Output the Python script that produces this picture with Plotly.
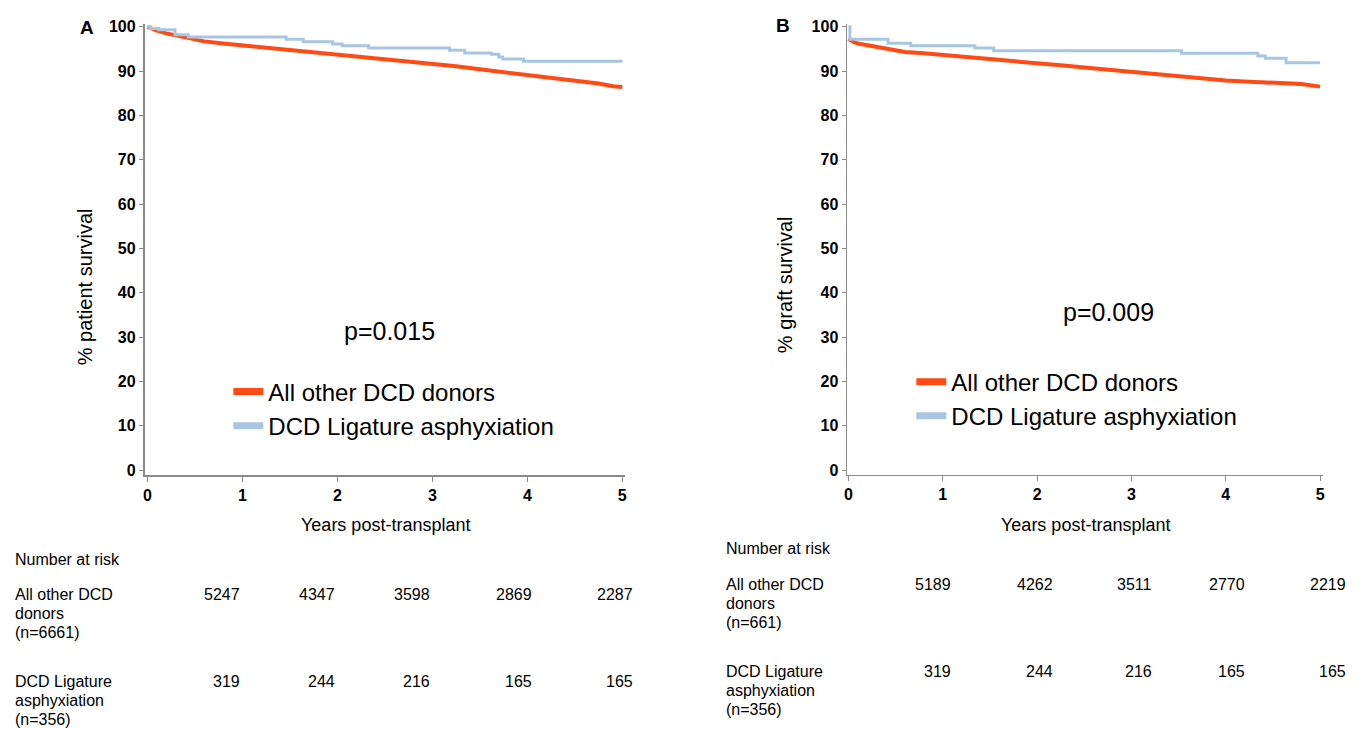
import plotly.graph_objects as go

W, H = 1360, 729
FONT = "Arial, Liberation Sans, Helvetica, sans-serif"
RED = "#FF4A14"
BLUE = "#A8C5E1"
AXC = "#8a8a8a"

# ---- Panel A: patient survival ----
a_red_t = [0, 0.1, 0.2, 0.3, 0.4, 0.6, 0.8, 1.0, 1.25, 1.5, 1.75, 2.0, 2.25, 2.5, 2.75, 3.0, 3.25, 3.5, 3.75, 4.0, 4.25, 4.5, 4.75, 4.9, 5.0]
a_red_v = [100, 99.1, 98.5, 98.0, 97.5, 96.7, 96.2, 95.8, 95.3, 94.8, 94.2, 93.7, 93.1, 92.6, 92.2, 91.7, 91.1, 90.4, 89.8, 89.2, 88.6, 88.0, 87.2, 86.6, 86.4]
a_blue_t = [0, 0.03, 0.12, 0.29, 0.43, 1.46, 1.64, 1.95, 2.05, 2.33, 3.18, 3.34, 3.62, 3.70, 3.74, 3.96, 5.0]
a_blue_v = [100, 99.6, 99.3, 98.2, 97.7, 97.2, 96.6, 96.1, 95.7, 95.2, 94.7, 94.1, 93.8, 93.2, 92.7, 92.2, 92.2]

# ---- Panel B: graft survival ----
b_red_t = [0, 0.05, 0.1, 0.2, 0.3, 0.4, 0.6, 0.8, 1.0, 1.25, 1.5, 1.75, 2.0, 2.25, 2.5, 2.75, 3.0, 3.25, 3.5, 3.75, 4.0, 4.25, 4.5, 4.8, 5.0]
b_red_v = [97.3, 96.6, 96.2, 95.8, 95.3, 94.9, 94.3, 94.0, 93.7, 93.2, 92.7, 92.3, 91.8, 91.3, 90.8, 90.3, 89.8, 89.4, 88.9, 88.4, 87.9, 87.6, 87.3, 87.1, 86.5]
b_blue_t = [0, 0.015, 0.42, 0.66, 1.34, 1.54, 3.53, 4.34, 4.42, 4.64, 5.0]
b_blue_v = [100, 97.2, 96.3, 95.7, 95.2, 94.6, 94.0, 93.4, 92.9, 91.9, 91.9]

names = ["All other DCD donors", "DCD Ligature asphyxiation"]
ytick_vals = [0, 10, 20, 30, 40, 50, 60, 70, 80, 90, 100]
xtick_vals = [0, 1, 2, 3, 4, 5]

# number at risk
a_risk_other = [5247, 4347, 3598, 2869, 2287]
a_risk_lig = [319, 244, 216, 165, 165]
b_risk_other = [5189, 4262, 3511, 2770, 2219]
b_risk_lig = [319, 244, 216, 165, 165]
a_labels = [["All other DCD", "donors", "(n=6661)"], ["DCD Ligature", "asphyxiation", "(n=356)"]]
b_labels = [["All other DCD", "donors", "(n=661)"], ["DCD Ligature", "asphyxiation", "(n=356)"]]


def px(x):
    return x / W


def py(y):
    return 1 - y / H


fig = go.Figure()
for (t, v, col, w, shp, nm, xa, ya, lg) in [
    (a_red_t, a_red_v, RED, 4, "linear", names[0], "x", "y", "legend"),
    (a_blue_t, a_blue_v, BLUE, 3, "hv", names[1], "x", "y", "legend"),
    (b_red_t, b_red_v, RED, 4, "linear", names[0], "x2", "y2", "legend2"),
    (b_blue_t, b_blue_v, BLUE, 3, "hv", names[1], "x2", "y2", "legend2"),
]:
    fig.add_trace(go.Scatter(x=t, y=v, mode="lines", name=nm, line=dict(color=col, width=w, shape=shp),
                             xaxis=xa, yaxis=ya, showlegend=False))
    # legend entry with a thicker sample line
    fig.add_trace(go.Scatter(x=[None], y=[None], mode="lines", name=nm, line=dict(color=col, width=7),
                             xaxis=xa, yaxis=ya, legend=lg, showlegend=True))

ydom = [py(476), py(19)]
yr = [-1.11, 100.67]


def xaxis(dom, rng, lw, anchor):
    return dict(domain=dom, range=rng, tickvals=xtick_vals, showline=True, linecolor=AXC, linewidth=lw,
                ticks="outside", ticklen=5, tickwidth=1, tickcolor=AXC, showgrid=False, zeroline=False,
                anchor=anchor,
                tickfont=dict(family=FONT, size=16, color="black", weight="bold"), fixedrange=True)


def yaxis(anchor, lw):
    return dict(domain=ydom, range=yr, tickvals=ytick_vals, showline=True, linecolor=AXC, linewidth=lw,
                ticks="outside", ticklen=4, tickwidth=1, tickcolor=AXC, showgrid=False, zeroline=False,
                anchor=anchor, tickfont=dict(family=FONT, size=16, color="black", weight="bold"), fixedrange=True)


ann = []


def text(x, y, s, size=16, xanchor="left", bold=False, angle=0, yanchor="middle"):
    ann.append(dict(x=px(x), y=py(y), xref="paper", yref="paper", text=s, showarrow=False,
                    xanchor=xanchor, yanchor=yanchor, textangle=angle, borderpad=0,
                    font=dict(family=FONT, size=size, color="black", weight="bold" if bold else "normal")))


# panel letters
text(85, 23, "A", size=19, xanchor="center", bold=True)
text(783, 21, "B", size=19, xanchor="center", bold=True)
# axis titles
text(385, 526, "Years post-transplant", size=18, xanchor="center")
text(1087, 526, "Years post-transplant", size=18, xanchor="center")
text(84, 285, "% patient survival", size=20, xanchor="center", angle=-90)
text(785, 283, "% graft survival", size=20, xanchor="center", angle=-90)
# p-values
text(389, 330, "p=0.015", size=25, xanchor="center")
text(1110, 311, "p=0.009", size=25, xanchor="center")

# number at risk tables
text(12, 561, "Number at risk")
text(725, 550, "Number at risk")
a_right = [240, 335, 430, 533, 634]
b_right = [953, 1055, 1154, 1248, 1349]
for rows, lbls, xr, xl, ys in [((a_risk_other, a_risk_lig), a_labels, a_right, 12, (597, 685)),
                              ((b_risk_other, b_risk_lig), b_labels, b_right, 725, (587, 675))]:
    for vals, lab, y0 in zip(rows, lbls, ys):
        for i, line in enumerate(lab):
            text(xl, y0 + 19 * i, line)
        for v, xx in zip(vals, xr):
            text(xx, y0, str(v), xanchor="right")

leg = dict(font=dict(family=FONT, size=24, color="black"), bgcolor="rgba(0,0,0,0)", xanchor="left",
           yanchor="top", tracegroupgap=0, itemwidth=30)

fig.update_layout(
    width=W, height=H, margin=dict(l=0, r=0, t=0, b=0),
    paper_bgcolor="white", plot_bgcolor="white",
    xaxis=xaxis([px(143), px(625)], [-0.03, 5.03], 1.5, "y"),
    yaxis=yaxis("x", 1.5),
    xaxis2=xaxis([px(847), px(1325)], [-0.021, 5.032], 1, "y2"),
    yaxis2=yaxis("x2", 1),
    legend=dict(leg, x=px(227), y=py(369)),
    legend2=dict(leg, x=px(912), y=py(359)),
    annotations=ann,
    showlegend=True,
)

fig.write_html("out.html")
